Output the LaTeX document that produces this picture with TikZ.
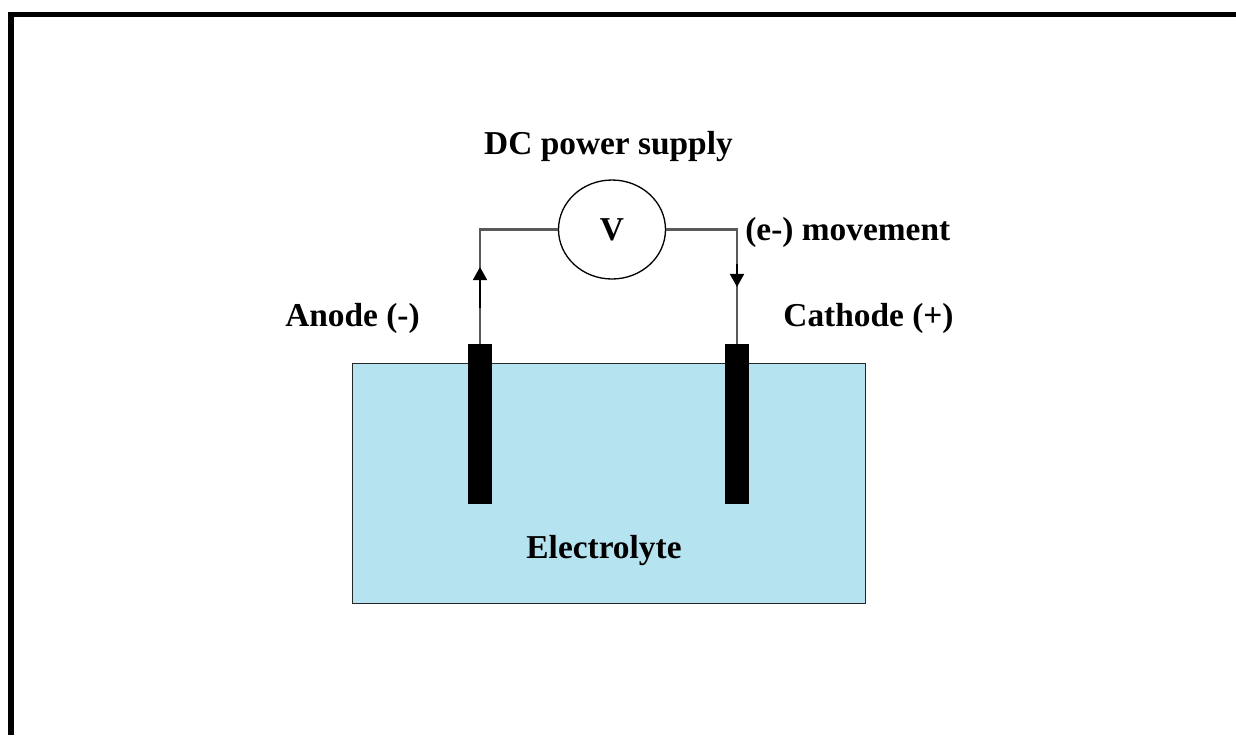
\documentclass[tikz,border=0pt]{standalone}
\usepackage{fontspec}
\setmainfont{Liberation Serif}
\usetikzlibrary{arrows.meta, shapes.geometric}
\definecolor{bathblue}{HTML}{B5E3EF}

\begin{document}
\begin{tikzpicture}[x=0.02cm, y=-0.02cm, >={Triangle[length=7.5pt,width=8pt]}]
    \tikzset{
        wire/.style={line width=1.2pt, black!65},
        electrode/.style={fill=black, minimum width=24*0.02cm, minimum height=160*0.02cm, inner sep=0pt},
        label/.style={font=\bfseries\fontsize{19}{23}\selectfont, inner sep=0pt}
    }
    \useasboundingbox (0,0) rectangle (1236,735);
    % frame
    \draw[line width=3.2pt, line cap=butt] (11,735) -- (11,14.5) -- (1236,14.5);
    % bath
    \node[draw=black!85, line width=0.55pt, fill=bathblue, minimum width=513*0.02cm, minimum height=240*0.02cm, inner sep=0pt] (bath) at (608.5,483) {};
    \node[electrode] (anode) at (480,424) {};
    \node[electrode] (cathode) at (737,424) {};
    % supply
    \node[draw, ellipse, line width=0.75pt, minimum width=107*0.02cm, minimum height=99*0.02cm, inner sep=0pt, font=\bfseries\fontsize{19}{23}\selectfont] (supply) at (612,229.5) {V};
    \draw[wire] (supply.west) -| (anode.north);
    \draw[wire] (supply.east) -| (cathode.north);
    \coordinate (anodetip) at (480,267);
    \coordinate (cathodetip) at (737,287);
    \draw[wire, black, ->] (anode.north) ++(0,-36) -- (anodetip);
    \draw[wire, black, ->] (supply.east -| cathode.north) ++(0,34) -- (cathodetip);
    % labels
    \node[label] (title) at (608.5,147) {DC power supply};
    \node[label, anchor=west] (movement) at (745,232) {(e-) movement};
    \node[label] (anodetext) at (352.5,318) {Anode (-)};
    \node[label] (cathodetext) at (868.5,318) {Cathode (+)};
    \node[label] (bathtext) at (604,551) {Electrolyte};
\end{tikzpicture}
\end{document}
